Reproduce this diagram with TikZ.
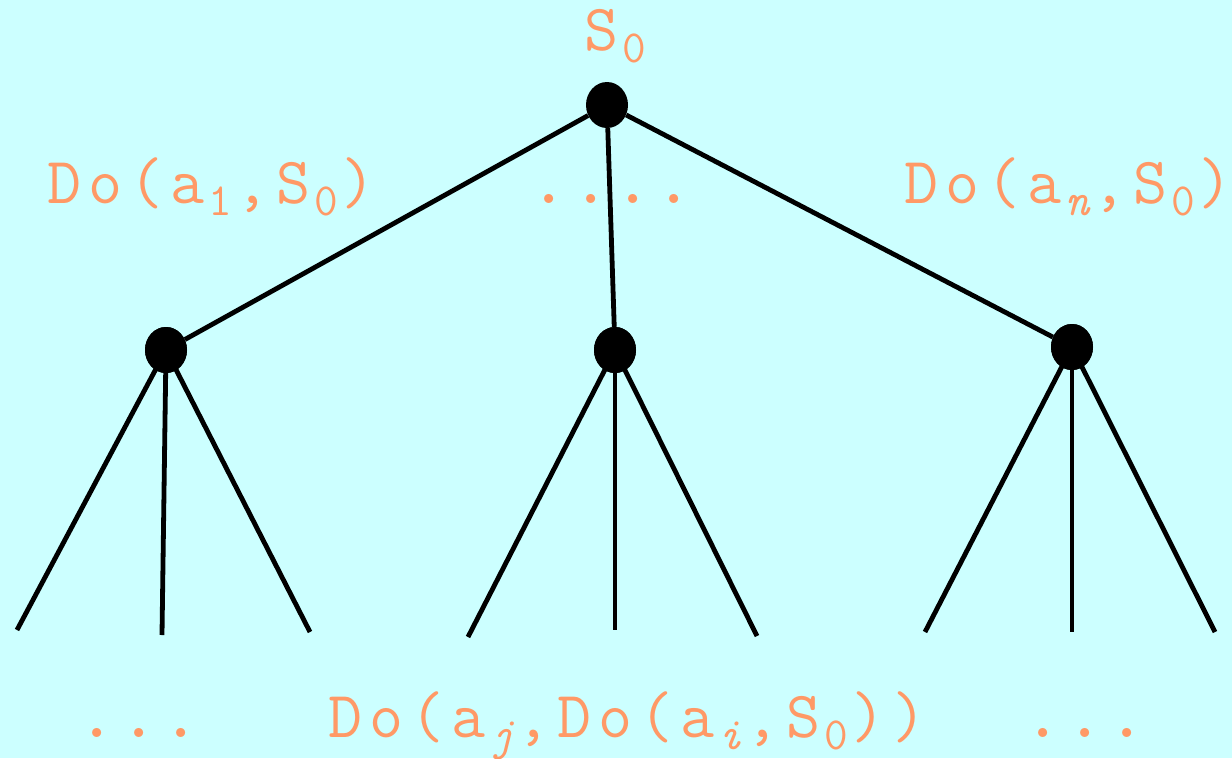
\documentclass[tikz,border=0pt]{standalone}
\usepackage{fontspec}
\usetikzlibrary{shapes.geometric}
\definecolor{bgcyan}{RGB}{204,255,255}
\definecolor{lbl}{RGB}{255,153,102}
\newcommand{\mono}{\ttfamily\addfontfeature{FakeBold=2}}
\newcommand{\dotfont}{\ttfamily\addfontfeature{FakeBold=6}}
\newcommand{\cx}[1]{\makebox[41pt][c]{#1}}
\newcommand{\dx}[1]{\makebox[41.7pt][c]{#1}}
\newcommand{\sbx}[1]{\makebox[24pt][c]{\raisebox{-12pt}{\fontsize{46}{46}\selectfont #1}}}
\tikzset{
  dot/.style={ellipse,fill=black,draw=none,minimum width=42pt,minimum height=46pt,inner sep=0pt},
  edge/.style={line width=4.8pt},
  lab/.style={text=lbl,font=\mono\fontsize{66}{80}\selectfont,inner sep=0pt,anchor=base west},
  dots/.style={text=lbl,font=\dotfont\fontsize{80}{90}\selectfont,inner sep=0pt,anchor=base west}
}
\begin{document}
\begin{tikzpicture}[x=1pt,y=-1pt]
\fill[bgcyan] (0,0) rectangle (1232,758);
\useasboundingbox (0,0) rectangle (1232,758);
% nodes
\node[dot] (r) at (607,105) {};
\node[dot] (m1) at (166,350) {};
\node[dot] (m2) at (615,350) {};
\node[dot] (m3) at (1072,347) {};
\coordinate (l1) at (17,630);
\coordinate (l2) at (162,635);
\coordinate (l3) at (310,632);
\coordinate (l4) at (468,637);
\coordinate (l5) at (615,630);
\coordinate (l6) at (757,636);
\coordinate (l7) at (925,632);
\coordinate (l8) at (1072,632);
\coordinate (l9) at (1215,632);
% edges
\draw[edge] (r) -- (m1);
\draw[edge] (r) -- (m2);
\draw[edge] (r) -- (m3);
\draw[edge] (m1.center) -- (l1);
\draw[edge] (m1.center) -- (l2);
\draw[edge] (m1.center) -- (l3);
\draw[edge] (m2.center) -- (l4);
\draw[edge] (m2.center) -- (l5);
\draw[edge] (m2.center) -- (l6);
\draw[edge] (m3.center) -- (l7);
\draw[edge] (m3.center) -- (l8);
\draw[edge] (m3.center) -- (l9);
\node[dot] at (m1) {};
\node[dot] at (m2) {};
\node[dot] at (m3) {};
% labels
\node[lab] (s0) at (581,50) {\cx{S}\sbx{0}};
\node[lab] (t1) at (44,203) {\cx{D}\cx{o}\cx{(}\cx{a}\sbx{1}\cx{,}\cx{S}\sbx{0}\cx{)}};
\node[dots] (t2) at (528.5,203) {\dx{.}\dx{.}\dx{.}\dx{.}};
\node[lab] (t3) at (901,203) {\cx{D}\cx{o}\cx{(}\cx{a}\sbx{\itshape n}\cx{,}\cx{S}\sbx{0}\makebox[27pt][l]{\cx{)}}};
\node[dots] (b1) at (76.5,737) {\dx{.}\dx{.}\dx{.}};
\node[lab] (b2) at (325,737) {\cx{D}\cx{o}\cx{(}\cx{a}\sbx{\itshape j}\cx{,}\cx{D}\cx{o}\cx{(}\cx{a}\sbx{\itshape i}\cx{,}\cx{S}\sbx{0}\cx{)}\cx{)}};
\node[dots] (b3) at (1022.5,737) {\dx{.}\dx{.}\dx{.}};
\end{tikzpicture}
\end{document}
